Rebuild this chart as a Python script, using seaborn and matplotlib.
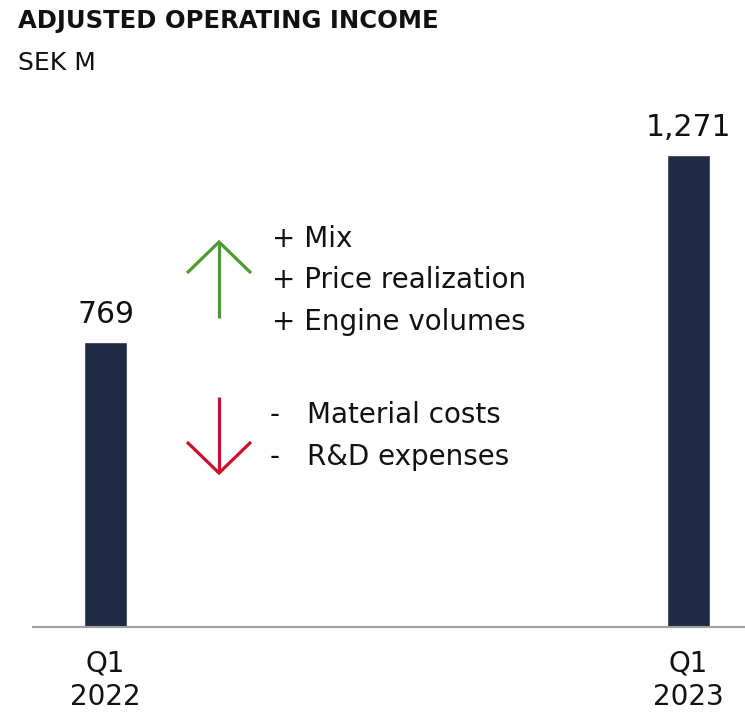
import matplotlib
matplotlib.use("Agg")
import matplotlib.pyplot as plt
from matplotlib.lines import Line2D
from matplotlib.transforms import Affine2D
import seaborn as sns
import pandas as pd

# Chart data
quarters = ["Q1\n2022", "Q1\n2023"]
income = [769, 1271]
value_labels = ["769", "1,271"]
drivers_up = ["+ Mix", "+ Price realization", "+ Engine volumes"]
drivers_down = ["Material costs", "R&D expenses"]

W, H = 745, 712
BAR = "#1f2a44"
GREEN = "#4c9b2f"
RED = "#c8102e"
INK = "#111111"

sns.set_theme(style="white")
plt.rcParams["font.family"] = ["DejaVu Sans"]

fig = plt.figure(figsize=(W / 100, H / 100), dpi=100)
ax = fig.add_axes([33 / W, (H - 627) / H, (W - 33) / W, 627 / H])

df = pd.DataFrame({"quarter": quarters, "income": income})
sns.barplot(data=df, x="quarter", y="income", color=BAR, width=0.074,
            saturation=1, ax=ax)

ax.set_xlim(-0.1244, 1.0969)
ax.set_ylim(0, 1689)
ax.set_xlabel("")
ax.set_ylabel("")
ax.set_yticks([])
for side in ("top", "left", "right"):
    ax.spines[side].set_visible(False)
ax.spines["bottom"].set_color("#a0a0a0")
ax.spines["bottom"].set_linewidth(1.5)
ax.tick_params(axis="x", length=0, pad=16, labelsize=20, labelcolor=INK)
for lab in ax.get_xticklabels():
    lab.set_linespacing(1.25)

# Value labels above each bar
for patch, label in zip(ax.patches, value_labels):
    ax.annotate(label, (patch.get_x() + patch.get_width() / 2, patch.get_height()),
                xytext=(0, 13.5), textcoords="offset points",
                ha="center", va="baseline", fontsize=21.5, color=INK)

# Pixel-space transform (origin top-left) for the commentary
px = Affine2D().scale(1 / W, -1 / H).translate(0, 1) + fig.transFigure


def arrow(x, y0, y1, head, color):
    fig.add_artist(Line2D([x, x], [y0, y1], transform=px, color=color, lw=2.3,
                          solid_capstyle="butt"))
    fig.add_artist(Line2D([x - 32, x, x + 32], [head, y1, head], transform=px,
                          color=color, lw=2.3, solid_joinstyle="miter",
                          solid_capstyle="butt"))


arrow(219, 318, 242, 273, GREEN)
arrow(219, 397, 473, 442, RED)

for text, base in zip(drivers_up, [247, 288, 330]):
    fig.text(272, base, text, transform=px, fontsize=20, color=INK, va="baseline")
for text, base in zip(drivers_down, [423, 465]):
    fig.text(270, base, "-", transform=px, fontsize=20, color=INK, va="baseline")
    fig.text(307, base, text, transform=px, fontsize=20, color=INK, va="baseline")

fig.text(18, 28, "ADJUSTED OPERATING INCOME", transform=px, fontsize=17.5,
         fontweight="bold", color=INK, va="baseline")
fig.text(18, 70, "SEK M", transform=px, fontsize=18, color=INK, va="baseline")

fig.savefig("out.png", dpi=100)
